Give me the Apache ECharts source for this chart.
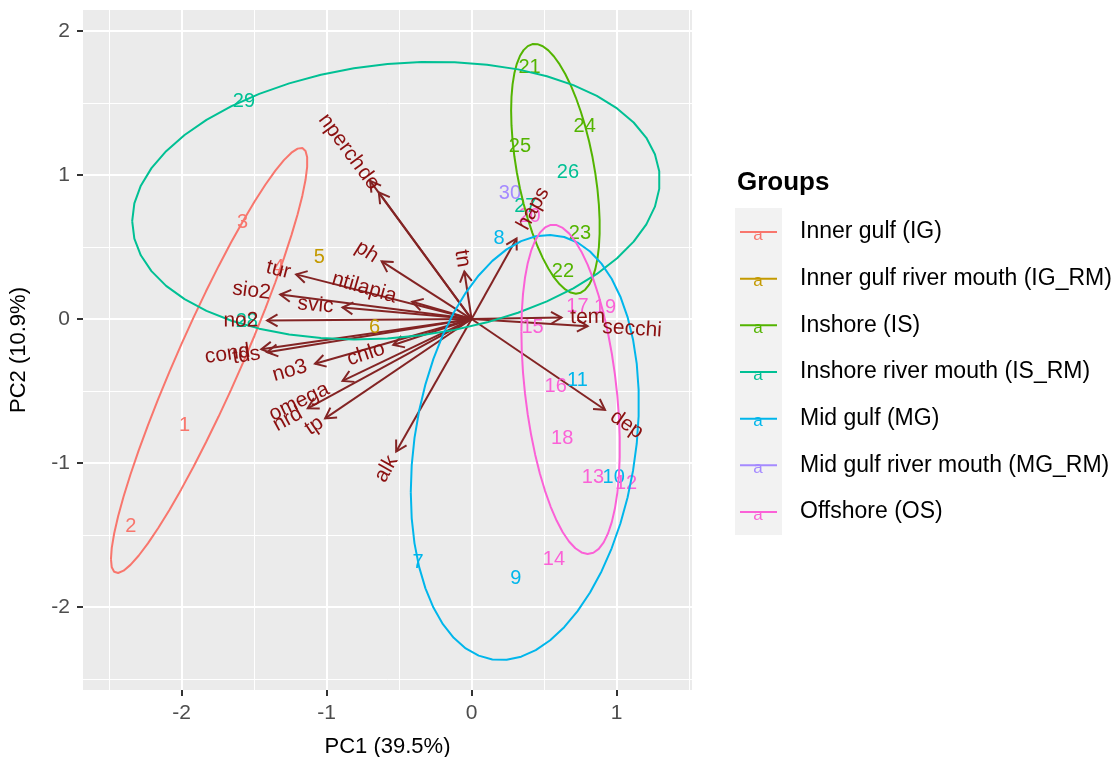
<!DOCTYPE html>
<html>
<head>
<meta charset="utf-8">
<script src="https://cdn.jsdelivr.net/npm/echarts@6/dist/echarts.min.js"></script>
<style>
  html, body { margin: 0; padding: 0; background: #ffffff; }
  #chart { width: 1119px; height: 757px; }
</style>
</head>
<body>
<div id="chart"></div>
<script>
// ---- groups ----
const groupNames = [
  'Inner gulf (IG)',
  'Inner gulf river mouth (IG_RM)',
  'Inshore (IS)',
  'Inshore river mouth (IS_RM)',
  'Mid gulf (MG)',
  'Mid gulf river mouth (MG_RM)',
  'Offshore (OS)'
];
const groupColors = ['#F8766D', '#C49A00', '#53B400', '#00C094', '#00B6EB', '#A58AFF', '#FB61D7'];

// ---- site scores (PC1, PC2) ----
const siteLabels = ['1','2','3','4','5','6','7','8','9','10','11','12','13','14','15',
                    '16','17','18','19','20','21','22','23','24','25','26','27','28','29','30'];
const siteGroup  = [0,0,0,0,1,1,4,4,4,4,4,6,6,6,6,6,6,6,6,6,2,2,2,2,2,3,3,3,3,5];
const sitePC1 = [-1.98,-2.35,-1.58,-1.33,-1.05,-0.67,-0.37,0.19,0.305,0.98,0.73,1.065,0.837,0.568,0.42,
                 0.58,0.73,0.625,0.92,0.40,0.40,0.63,0.747,0.78,0.333,0.664,0.37,-1.55,-1.57,0.264];
const sitePC2 = [-0.74,-1.44,0.67,0.36,0.43,-0.06,-1.69,0.56,-1.80,-1.10,-0.43,-1.14,-1.10,-1.67,-0.06,
                 -0.47,0.09,-0.83,0.08,0.71,1.75,0.33,0.597,1.34,1.20,1.02,0.78,-0.02,1.51,0.875];

// ---- variable loadings (arrow tips) ----
const varNames = ['nperch','do','ph','ntilapia','tur','sio2','svic','no2','cond','tds','no3',
                  'chlo','omega','nrd','tp','alk','dep','secchi','tem','haps','tn'];
const varPC1 = [-0.70,-0.64,-0.62,-0.41,-1.21,-1.32,-0.89,-1.41,-1.45,-1.41,-1.08,
                -0.54,-0.89,-1.13,-1.01,-0.52,0.92,0.80,0.62,0.31,-0.05];
const varPC2 = [0.96,0.88,0.40,0.12,0.31,0.17,0.08,-0.01,-0.21,-0.23,-0.31,
                -0.18,-0.43,-0.62,-0.69,-0.92,-0.63,-0.05,0.01,0.56,0.33];

// ---- axes ----
const xTicks = [-2, -1, 0, 1];
const xMinor = [-2.5, -1.5, -0.5, 0.5, 1.5];
const yTicks = [-2, -1, 0, 1, 2];
const yMinor = [-2.5, -1.5, -0.5, 0.5, 1.5];
const xTitle = 'PC1 (39.5%)';
const yTitle = 'PC2 (10.9%)';
const legendTitle = 'Groups';

const FONT = '"Liberation Sans", Arial, Helvetica, sans-serif';
const ARROW_COLOR = '#832424';
const VAR_COLOR = '#8B1010';
const VAR_FONT = '21px ' + FONT;
const SITE_FONT = '20px ' + FONT;

const measureCtx = document.createElement('canvas').getContext('2d');
function textWidth(str, font) {
  measureCtx.font = font;
  return measureCtx.measureText(str).width;
}

// Normal-theory confidence ellipse for a group (prob 0.68), built from the group's scores
const ellipseProb = 0.68;
function groupEllipse(g) {
  const idx = [];
  siteGroup.forEach((v, i) => { if (v === g) idx.push(i); });
  if (idx.length < 3) return null;
  const xs = idx.map(i => sitePC1[i]);
  const ys = idx.map(i => sitePC2[i]);
  const n = xs.length;
  const mx = xs.reduce((a, b) => a + b, 0) / n;
  const my = ys.reduce((a, b) => a + b, 0) / n;
  let sxx = 0, syy = 0, sxy = 0;
  for (let k = 0; k < n; k++) {
    sxx += (xs[k] - mx) * (xs[k] - mx);
    syy += (ys[k] - my) * (ys[k] - my);
    sxy += (xs[k] - mx) * (ys[k] - my);
  }
  sxx /= (n - 1); syy /= (n - 1); sxy /= (n - 1);
  const r11 = Math.sqrt(sxx);
  const r12 = sxy / r11;
  const r22 = Math.sqrt(Math.max(syy - r12 * r12, 0));
  const ed = Math.sqrt(-2 * Math.log(1 - ellipseProb));
  const pts = [];
  const steps = 50;
  for (let k = 0; k < steps; k++) {
    const th = -Math.PI + 2 * Math.PI * k / (steps - 1);
    const c = Math.cos(th), s = Math.sin(th);
    pts.push([mx + ed * c * r11, my + ed * (c * r12 + s * r22)]);
  }
  return pts;
}

const siteData = sitePC1.map((x, i) => [x, sitePC2[i]]);
const varData = varPC1.map((x, i) => [x, varPC2[i]]);

const series = [];

// loading arrows
series.push({
  type: 'custom',
  name: 'arrows',
  coordinateSystem: 'cartesian2d',
  xAxisIndex: 0, yAxisIndex: 0,
  z: 2,
  silent: true,
  data: varData,
  encode: { x: 0, y: 1 },
  renderItem: function (params, api) {
    const o = api.coord([0, 0]);
    const t = api.coord([api.value(0), api.value(1)]);
    const dx = t[0] - o[0], dy = t[1] - o[1];
    const len = Math.hypot(dx, dy) || 1;
    const ux = dx / len, uy = dy / len;
    const L = 12, A = Math.PI / 6;
    const r = a => [ux * Math.cos(a) - uy * Math.sin(a), ux * Math.sin(a) + uy * Math.cos(a)];
    const r1 = r(A), r2 = r(-A);
    return {
      type: 'group',
      children: [
        { type: 'line', shape: { x1: o[0], y1: o[1], x2: t[0], y2: t[1] },
          style: { stroke: ARROW_COLOR, lineWidth: 2 } },
        { type: 'polyline',
          shape: { points: [[t[0] - L * r1[0], t[1] - L * r1[1]], [t[0], t[1]], [t[0] - L * r2[0], t[1] - L * r2[1]]] },
          style: { stroke: ARROW_COLOR, lineWidth: 2, fill: null } }
      ]
    };
  }
});

// site labels
series.push({
  type: 'custom',
  name: 'sites',
  coordinateSystem: 'cartesian2d',
  xAxisIndex: 0, yAxisIndex: 0,
  z: 3,
  silent: true,
  data: siteData,
  encode: { x: 0, y: 1 },
  renderItem: function (params, api) {
    const i = params.dataIndex;
    const p = api.coord([api.value(0), api.value(1)]);
    return {
      type: 'text', x: p[0], y: p[1],
      style: { text: siteLabels[i], fill: groupColors[siteGroup[i]], font: SITE_FONT,
               align: 'center', verticalAlign: 'middle' }
    };
  }
});

// group ellipses
groupNames.forEach((g, gi) => {
  const pts = groupEllipse(gi);
  if (!pts) return;
  series.push({
    type: 'line',
    name: g,
    xAxisIndex: 0, yAxisIndex: 0,
    z: 4,
    silent: true,
    showSymbol: false,
    symbol: 'none',
    smooth: false,
    data: pts,
    lineStyle: { color: groupColors[gi], width: 2 },
    itemStyle: { color: groupColors[gi] }
  });
});

// variable names along the arrows
series.push({
  type: 'custom',
  name: 'variables',
  coordinateSystem: 'cartesian2d',
  xAxisIndex: 0, yAxisIndex: 0,
  z: 5,
  silent: true,
  data: varData,
  encode: { x: 0, y: 1 },
  renderItem: function (params, api) {
    const i = params.dataIndex;
    const name = varNames[i];
    const o = api.coord([0, 0]);
    const t = api.coord([api.value(0), api.value(1)]);
    const dx = t[0] - o[0], dy = o[1] - t[1];
    const a = Math.atan(dy / dx);
    const w = textWidth(name, VAR_FONT);
    const sgn = dx >= 0 ? 1 : -1;
    const ax = t[0] + sgn * 0.25 * w * Math.cos(a);
    const ay = t[1] - sgn * 0.25 * w * Math.sin(a);
    return {
      type: 'text', x: ax, y: ay, rotation: a,
      style: { text: name, fill: VAR_COLOR, font: VAR_FONT,
               align: sgn > 0 ? 'left' : 'right', verticalAlign: 'middle' }
    };
  }
});

// legend drawn as text keys
const legendRow0 = 232, legendStep = 46.67;
const legendGraphics = [
  { type: 'text', x: 737, y: 183,
    style: { text: legendTitle, font: 'bold 26px ' + FONT, fill: '#000000', align: 'left', verticalAlign: 'middle' } },
  { type: 'rect', shape: { x: 735, y: 208, width: 47, height: 327 }, style: { fill: '#F2F2F2' } }
];
groupNames.forEach((g, i) => {
  const cy = legendRow0 + i * legendStep;
  legendGraphics.push(
    { type: 'line', shape: { x1: 740, y1: cy, x2: 777, y2: cy }, style: { stroke: groupColors[i], lineWidth: 2 } },
    { type: 'text', x: 758, y: cy + 3,
      style: { text: 'a', font: '17px ' + FONT, fill: groupColors[i], align: 'center', verticalAlign: 'middle' } },
    { type: 'text', x: 800, y: cy,
      style: { text: g, font: '23px ' + FONT, fill: '#000000', align: 'left', verticalAlign: 'middle' } }
  );
});

const majorLine = { show: true, lineStyle: { color: '#FFFFFF', width: 2 } };
const minorLine = { show: true, lineStyle: { color: '#FFFFFF', width: 1 } };

const option = {
  animation: false,
  backgroundColor: '#FFFFFF',
  textStyle: { fontFamily: FONT },
  grid: { left: 83, top: 10, width: 609, height: 680, show: true,
          backgroundColor: '#EBEBEB', borderWidth: 0,
          containLabel: false, outerBoundsMode: 'none' },
  xAxis: [
    { type: 'value', min: -2.68, max: 1.52, position: 'bottom',
      name: xTitle, nameLocation: 'middle', nameGap: 46,
      nameTextStyle: { fontSize: 22, color: '#000000', fontFamily: FONT },
      axisLine: { show: false, onZero: false },
      axisTick: { show: true, length: 6, customValues: xTicks, lineStyle: { color: '#333333', width: 2 } },
      axisLabel: { show: true, customValues: xTicks, fontSize: 21, color: '#4D4D4D', margin: 13, fontFamily: FONT },
      splitLine: majorLine, z: 1 },
    { type: 'value', min: -2.68, max: 1.52, position: 'bottom',
      axisLine: { show: false, onZero: false },
      axisTick: { show: false, customValues: xMinor },
      axisLabel: { show: false, customValues: xMinor },
      splitLine: minorLine, z: 0 }
  ],
  yAxis: [
    { type: 'value', min: -2.576, max: 2.146, position: 'left',
      name: yTitle, nameLocation: 'middle', nameGap: 53,
      nameTextStyle: { fontSize: 22, color: '#000000', fontFamily: FONT },
      axisLine: { show: false, onZero: false },
      axisTick: { show: true, length: 6, customValues: yTicks, lineStyle: { color: '#333333', width: 2 } },
      axisLabel: { show: true, customValues: yTicks, fontSize: 21, color: '#4D4D4D', margin: 13, fontFamily: FONT },
      splitLine: majorLine, z: 1 },
    { type: 'value', min: -2.576, max: 2.146, position: 'left',
      axisLine: { show: false, onZero: false },
      axisTick: { show: false, customValues: yMinor },
      axisLabel: { show: false, customValues: yMinor },
      splitLine: minorLine, z: 0 }
  ],
  series: series,
  graphic: legendGraphics
};

const chart = echarts.init(document.getElementById('chart'));
chart.setOption(option);
</script>
</body>
</html>
